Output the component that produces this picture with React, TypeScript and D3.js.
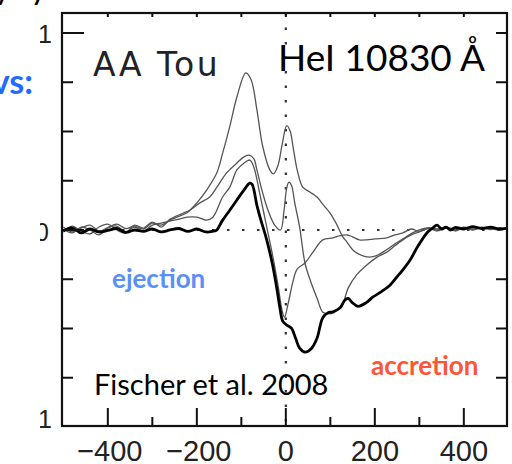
import React, { useEffect } from 'react';
import * as d3 from 'd3';

const W = 512;
const H = 464;

// axis ticks
const xTicksMajor = [-400, -200, 0, 200, 400];
const xTickLabels = ['−400', '−200', '0', '200', '400'];
const xTicksMinor = [-300, -100, 100, 300];
const xTicksTop = [-400, -300, -200, -100, 0, 100, 200, 300, 400];
const yTicksLeft = [-0.3, -0.2, -0.1, 0, 0.1, 0.2, 0.3, 0.4];
const yTicksRight = [-0.3, -0.2, -0.1, 0.1, 0.2, 0.3, 0.4];
const yLabelVals = [0.4, 0, -0.4];
const yLabelText = ['1', '0', '1'];

// Curve 1: thin, strongest blue-shifted emission
const velA = [-500, -480, -460, -440, -420, -400, -380, -360, -340, -320, -300, -280, -260, -245, -222, -200, -178, -155, -142, -126, -110, -90, -78, -65, -52, -36, -28, -18, -8, 2, 10, 16, 26, 38, 54, 70, 85, 99, 114, 128, 137, 150, 160, 175, 189, 204, 218, 233, 249, 263, 285, 300, 320, 340, 360, 380, 400, 420, 440, 460, 480, 497];
const fluxA = [0.006, -0.004, 0.004, 0.01, -0.002, 0.005, 0.012, 0.003, 0.008, 0.002, 0.014, 0.01, 0.02, 0.026, 0.035, 0.055, 0.081, 0.116, 0.156, 0.21, 0.27, 0.319, 0.305, 0.244, 0.17, 0.122, 0.114, 0.13, 0.175, 0.212, 0.2, 0.17, 0.12, 0.087, 0.077, 0.067, 0.05, 0.035, 0.012, -0.014, -0.024, -0.04, -0.047, -0.053, -0.055, -0.052, -0.045, -0.036, -0.026, -0.018, -0.006, 0.0, 0.004, 0.002, 0.006, 0.002, 0.005, 0.0, 0.004, 0.003, 0.001, 0.004];

// Curve 2: thin, moderate emission, red peak near 0
const velB = [-500, -480, -460, -440, -420, -400, -380, -360, -340, -320, -300, -280, -260, -231, -216, -193, -171, -155, -133, -110, -95, -83, -72, -65, -52, -40, -25, -12, -4, 2, 7, 13, 20, 31, 43, 56, 70, 83, 95, 106, 118, 128, 140, 160, 182, 205, 227, 245, 263, 282, 300, 320, 340, 360, 380, 400, 420, 440, 460, 480, 497];
const fluxB = [-0.004, 0.008, -0.002, -0.008, 0.006, 0.012, 0.0, -0.006, 0.01, 0.004, 0.016, 0.006, 0.022, 0.034, 0.04, 0.055, 0.067, 0.087, 0.116, 0.136, 0.148, 0.152, 0.145, 0.122, 0.075, 0.04, 0.01, 0.0, 0.04, 0.085, 0.097, 0.09, 0.055, 0.006, -0.067, -0.105, -0.138, -0.167, -0.17, -0.169, -0.16, -0.15, -0.118, -0.09, -0.071, -0.055, -0.045, -0.032, -0.02, -0.01, -0.004, 0.003, -0.002, 0.004, 0.0, 0.006, 0.002, 0.005, 0.001, 0.004, 0.002];

// Curve 3: thin, moderate emission, deep narrow absorption
const velC = [-500, -480, -460, -440, -420, -400, -380, -360, -340, -320, -300, -280, -260, -240, -222, -200, -178, -164, -142, -126, -110, -95, -81, -72, -60, -45, -30, -18, -8, -3, 5, 16, 25, 43, 61, 83, 106, 120, 137, 150, 165, 182, 200, 227, 245, 263, 282, 300, 320, 340, 360, 380, 400, 420, 440, 460, 480, 497];
const fluxC = [0.002, -0.006, 0.006, 0.0, -0.01, 0.004, 0.008, -0.004, 0.006, -0.002, 0.01, 0.014, 0.018, 0.022, 0.026, 0.026, 0.02, 0.026, 0.067, 0.087, 0.122, 0.135, 0.142, 0.128, 0.08, 0.015, -0.05, -0.11, -0.165, -0.177, -0.15, -0.105, -0.08, -0.067, -0.045, -0.02, -0.016, -0.012, -0.01, -0.014, -0.02, -0.02, -0.018, -0.016, -0.01, -0.006, 0.002, -0.003, 0.004, 0.0, 0.005, -0.002, 0.004, 0.001, 0.006, 0.002, 0.0, 0.003];

// Curve 4: thick, weak emission, broad red-shifted absorption
const velD = [-500, -480, -460, -440, -420, -400, -380, -360, -340, -320, -300, -280, -260, -240, -220, -200, -180, -160, -155, -142, -126, -110, -95, -81, -76, -65, -58, -43, -30, -20, -13, -7, 2, 13, 22, 31, 43, 58, 70, 83, 95, 106, 122, 132, 140, 150, 162, 180, 196, 215, 234, 250, 263, 280, 294, 317, 330, 340, 350, 360, 370, 380, 400, 420, 440, 460, 480, 497];
const fluxD = [-0.002, 0.004, -0.006, 0.002, -0.004, -0.001, 0.003, -0.005, 0.0, -0.003, 0.002, -0.004, 0.0, 0.003, -0.003, 0.002, -0.004, -0.002, 0.0, 0.02, 0.04, 0.061, 0.08, 0.095, 0.093, 0.05, 0.026, -0.02, -0.07, -0.12, -0.16, -0.185, -0.193, -0.2, -0.22, -0.24, -0.248, -0.24, -0.22, -0.178, -0.168, -0.166, -0.158, -0.143, -0.139, -0.148, -0.155, -0.148, -0.136, -0.125, -0.112, -0.095, -0.081, -0.06, -0.037, -0.006, 0.004, 0.01, 0.002, 0.006, 0.0, 0.005, 0.002, 0.007, 0.003, 0.006, 0.002, 0.004];

const curves = [
  { v: velA, f: fluxA, thick: false },
  { v: velB, f: fluxB, thick: false },
  { v: velC, f: fluxC, thick: false },
  { v: velD, f: fluxD, thick: true },
];

const L = 62, R = 507, T = 13, B = 426;

export default function App() {
  useEffect(() => {
    document.body.style.margin = '0';
  }, []);

  const x = d3.scaleLinear().domain([-503, 497]).range([L, R]);
  const y = d3.scaleLinear().domain([-0.398, 0.4406]).range([B, T]);

  const line = d3
    .line<[number, number]>()
    .x((d) => x(d[0]))
    .y((d) => y(d[1]))
    .curve(d3.curveCatmullRom.alpha(0.5));

  const slideFont = 'Lato, "Open Sans", sans-serif';
  const axisFont = '"Liberation Sans", Arial, sans-serif';

  return (
    <svg
      width={W}
      height={H}
      viewBox={`0 0 ${W} ${H}`}
      style={{ display: 'block', position: 'absolute', left: 0, top: 0, background: '#fff' }}
    >
      <defs>
        <clipPath id="plotClip">
          <rect x={L} y={T} width={R - L} height={B - T} />
        </clipPath>
        <clipPath id="labelClip">
          <rect x={40} y={0} width={30} height={H} />
        </clipPath>
      </defs>
      <rect x={0} y={0} width={W} height={H} fill="#fff" />

      {/* fragments of slide text above */}
      <text x={-6} y={-1} fontFamily={slideFont} fontSize={34} fill="#000">y</text>
      <text x={30} y={-1} fontFamily={slideFont} fontSize={34} fill="#000">y</text>

      {/* dotted reference lines */}
      <line x1={L} x2={R} y1={y(0)} y2={y(0)} stroke="#333" strokeWidth={2.2} strokeDasharray="2.5,12.5" />
      <line x1={x(0)} x2={x(0)} y1={T} y2={B} stroke="#333" strokeWidth={2.2} strokeDasharray="2.5,12" />

      {/* curves */}
      <g clipPath="url(#plotClip)">
        {curves.map((c, i) => (
          <path
            key={i}
            d={line(c.v.map((vv, j) => [vv, c.f[j]] as [number, number])) || ''}
            fill="none"
            stroke={c.thick ? '#000' : '#555'}
            strokeWidth={c.thick ? 2.8 : 1.3}
            strokeLinejoin="round"
          />
        ))}
      </g>

      {/* frame */}
      <rect x={L} y={T} width={R - L} height={B - T} fill="none" stroke="#111" strokeWidth={2.2} />

      {/* bottom ticks */}
      {xTicksMajor.map((t) => (
        <line key={'bM' + t} x1={x(t)} x2={x(t)} y1={B} y2={B - 18} stroke="#111" strokeWidth={2} />
      ))}
      {xTicksMinor.map((t) => (
        <line key={'bm' + t} x1={x(t)} x2={x(t)} y1={B} y2={B - 9} stroke="#111" strokeWidth={2} />
      ))}
      {/* top ticks */}
      {xTicksTop.map((t) => (
        <line key={'t' + t} x1={x(t)} x2={x(t)} y1={T} y2={T + 4} stroke="#111" strokeWidth={2} />
      ))}
      {/* left ticks */}
      {yTicksLeft.map((t) => (
        <line
          key={'l' + t}
          x1={L}
          x2={L + (Math.abs(t) > 0.35 || t === 0 ? 22 : 11)}
          y1={y(t)}
          y2={y(t)}
          stroke="#111"
          strokeWidth={2}
        />
      ))}
      {/* right ticks */}
      {yTicksRight.map((t) => (
        <line key={'r' + t} x1={R} x2={R - 11} y1={y(t)} y2={y(t)} stroke="#111" strokeWidth={2} />
      ))}

      {/* x tick labels */}
      {xTicksMajor.map((t, i) => (
        <text
          key={'xl' + t}
          x={x(t) + (t < 0 ? 2 : 0)}
          y={461}
          textAnchor="middle"
          fontFamily={axisFont}
          fontSize={29}
          fill="#222"
        >
          {xTickLabels[i]}
        </text>
      ))}

      {/* y tick labels (cropped at the left) */}
      <g clipPath="url(#labelClip)">
        {yLabelVals.map((v, i) => (
          <text
            key={'yl' + i}
            x={yLabelText[i] === '0' ? 49 : 52}
            y={y(v) + (i === 0 ? 10 : i === 1 ? 11 : 1)}
            textAnchor="end"
            fontFamily={axisFont}
            fontSize={25}
            fill="#222"
          >
            {yLabelText[i]}
          </text>
        ))}
      </g>

      {/* annotations */}
      <text x={93} y={76} fontFamily='"DejaVu Sans", sans-serif' fontSize={33} letterSpacing={2.5} fill="#222">AA Tou</text>
      <text x={278} y={71} fontFamily={slideFont} fontSize={37} fill="#000">HeI 10830 Å</text>
      <text x={33} y={94} textAnchor="end" fontFamily={slideFont} fontWeight={700} fontSize={34} fill="#1f6bff">vs:</text>
      <text x={112} y={288} fontFamily={slideFont} fontWeight={700} fontSize={26} fill="#5b8ff5">ejection</text>
      <text x={371} y={375} fontFamily={slideFont} fontWeight={700} fontSize={26} fill="#ff5535">accretion</text>
      <text x={94} y={395} fontFamily={slideFont} fontSize={29} fill="#000">Fischer et al. 2008</text>
    </svg>
  );
}
